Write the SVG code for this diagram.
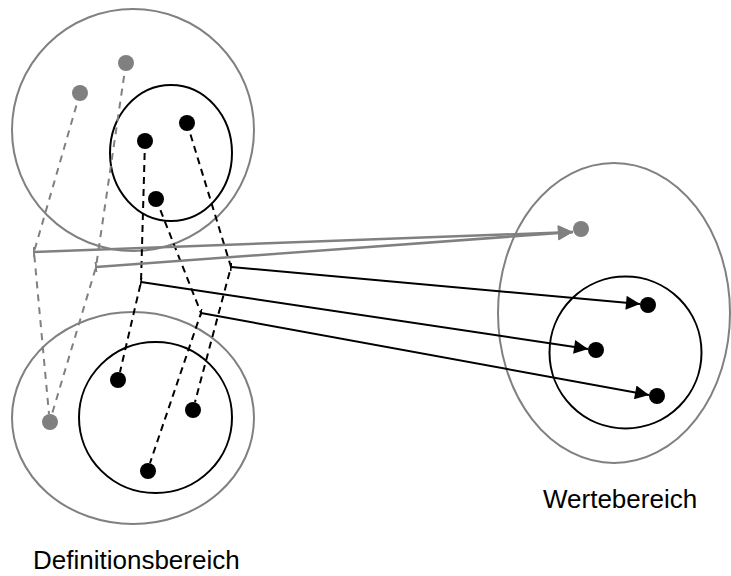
<svg xmlns="http://www.w3.org/2000/svg" width="731" height="576" viewBox="0 0 731 576">
  <style>
    .set-outer { fill: none; stroke: #808080; stroke-width: 2; }
    .set-inner { fill: none; stroke: #000; stroke-width: 2; }
    .pt-gray { fill: #808080; }
    .pt-black { fill: #000; }
    .dash-gray { fill: none; stroke: #808080; stroke-width: 2; stroke-dasharray: 7 6; }
    .dash-black { fill: none; stroke: #000; stroke-width: 2; stroke-dasharray: 7 5; }
    .map-gray { fill: none; stroke: #808080; stroke-width: 2.5; marker-end: url(#head-gray); marker-start: url(#tick-gray); }
    .map-black { fill: none; stroke: #000; stroke-width: 2; marker-end: url(#head-black); marker-start: url(#tick-black); }
    .label { font-family: "Liberation Sans", Arial, sans-serif; font-size: 26px; fill: #000; }
  </style>
  <defs>
    <marker id="head-black" viewBox="0 0 10 10" refX="10" refY="5" markerWidth="8" markerHeight="7" markerUnits="strokeWidth" orient="auto">
      <path d="M0,0 L10,5 L0,10 Z" fill="#000"/>
    </marker>
    <marker id="head-gray" viewBox="0 0 10 10" refX="10" refY="5" markerWidth="7" markerHeight="6" markerUnits="strokeWidth" orient="auto">
      <path d="M0,0 L10,5 L0,10 Z" fill="#808080"/>
    </marker>
    <marker id="tick-black" viewBox="0 0 2 10" refX="1" refY="5" markerWidth="1" markerHeight="4" markerUnits="strokeWidth" orient="auto">
      <rect x="0" y="0" width="2" height="10" fill="#000"/>
    </marker>
    <marker id="tick-gray" viewBox="0 0 2 10" refX="1" refY="5" markerWidth="1" markerHeight="4" markerUnits="strokeWidth" orient="auto">
      <rect x="0" y="0" width="2" height="10" fill="#808080"/>
    </marker>
  </defs>

  <!-- domain: upper set -->
  <g id="domain-upper">
    <circle class="set-outer" cx="133" cy="130" r="121"/>
    <ellipse class="set-inner" cx="171" cy="153" rx="61" ry="68"/>
    <circle class="pt-gray" cx="80" cy="93" r="8"/>
    <circle class="pt-gray" cx="126" cy="63" r="8"/>
    <circle class="pt-black" cx="145" cy="141" r="8"/>
    <circle class="pt-black" cx="187" cy="123" r="8"/>
    <circle class="pt-black" cx="156" cy="199" r="8"/>
  </g>

  <!-- domain: lower set -->
  <g id="domain-lower">
    <ellipse class="set-outer" cx="133" cy="418" rx="121" ry="106"/>
    <ellipse class="set-inner" cx="155.5" cy="417.5" rx="76.5" ry="75.5"/>
    <circle class="pt-gray" cx="50" cy="422" r="8"/>
    <circle class="pt-black" cx="118" cy="380" r="8"/>
    <circle class="pt-black" cx="193" cy="410" r="8"/>
    <circle class="pt-black" cx="148" cy="471" r="8"/>
  </g>

  <!-- codomain -->
  <g id="codomain">
    <ellipse class="set-outer" cx="614" cy="313" rx="116" ry="150"/>
    <circle class="set-inner" cx="625.5" cy="352.5" r="76"/>
    <circle class="pt-gray" cx="581" cy="229" r="8"/>
    <circle class="pt-black" cx="648" cy="305" r="8"/>
    <circle class="pt-black" cx="596" cy="350" r="8"/>
    <circle class="pt-black" cx="657" cy="396" r="8"/>
  </g>

  <g id="connectors">
    <!-- pairings (dashed) -->
    <polyline class="dash-gray" points="80,93 34,252 49,414"/>
    <polyline class="dash-gray" points="126,63 96,267 52,414"/>
    <polyline class="dash-black" points="145,141 141,282 120,372"/>
    <polyline class="dash-black" points="187,123 231,267 195,402"/>
    <polyline class="dash-black" points="156,199 201,313 150,463"/>
    <!-- mappings -->
    <line class="map-gray" x1="34" y1="252" x2="573" y2="232"/>
    <line class="map-gray" x1="96" y1="267" x2="573" y2="232"/>
    <line class="map-black" x1="231" y1="267" x2="640" y2="304"/>
    <line class="map-black" x1="141" y1="282" x2="588" y2="349"/>
    <line class="map-black" x1="201" y1="313" x2="649" y2="395"/>
  </g>

  <text class="label" x="543" y="508">Wertebereich</text>
  <text class="label" x="33" y="569">Definitionsbereich</text>
</svg>
